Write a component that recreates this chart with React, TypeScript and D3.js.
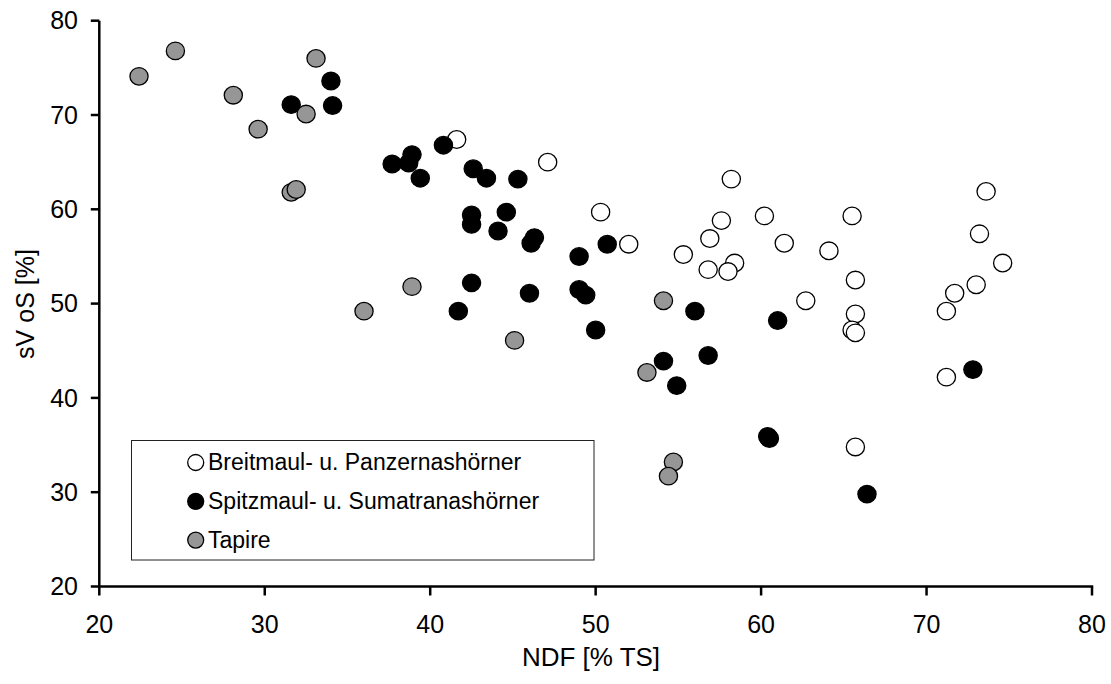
import React from "react";
import * as d3 from "d3";

// Breitmaul- u. Panzernashörner (white)
const breitX = [41.6, 47.1, 50.3, 52.0, 55.3, 58.2, 57.6, 56.9, 56.8, 58.4, 58.0, 60.2, 61.4, 64.1, 62.7, 65.5, 65.7, 65.7, 65.5, 65.7, 65.7, 73.6, 73.2, 74.6, 73.0, 71.7, 71.2, 71.2];
const breitY = [67.4, 65.0, 59.7, 56.3, 55.2, 63.2, 58.8, 56.9, 53.6, 54.3, 53.4, 59.3, 56.4, 55.6, 50.3, 59.3, 52.5, 48.9, 47.2, 46.9, 34.8, 61.9, 57.4, 54.3, 52.0, 51.1, 49.2, 42.2];

// Spitzmaul- u. Sumatranashörner (black)
const spitzX = [34.0, 34.1, 31.6, 37.7, 38.9, 38.7, 39.4, 40.8, 42.6, 43.4, 45.3, 42.5, 42.5, 44.6, 44.1, 46.3, 46.1, 49.0, 50.7, 42.5, 41.7, 46.0, 49.0, 49.4, 50.0, 54.1, 54.9, 56.0, 56.8, 61.0, 60.5, 60.4, 66.4, 72.8];
const spitzY = [73.6, 71.0, 71.1, 64.8, 65.8, 64.9, 63.3, 66.8, 64.3, 63.3, 63.2, 59.4, 58.4, 59.7, 57.7, 57.0, 56.4, 55.0, 56.3, 52.2, 49.2, 51.1, 51.5, 50.9, 47.2, 43.9, 41.3, 49.2, 44.5, 48.2, 35.7, 35.9, 29.8, 43.0];

// Tapire (grey)
const tapirX = [22.4, 24.6, 28.1, 29.6, 33.1, 32.5, 31.6, 31.9, 38.9, 36.0, 45.1, 54.1, 53.1, 54.7, 54.4];
const tapirY = [74.1, 76.8, 72.1, 68.5, 76.0, 70.1, 61.8, 62.1, 51.8, 49.2, 46.1, 50.3, 42.7, 33.2, 31.7];

const xTicks = [20, 30, 40, 50, 60, 70, 80];
const yTicks = [20, 30, 40, 50, 60, 70, 80];

const seriesNames = ["Breitmaul- u. Panzernashörner", "Spitzmaul- u. Sumatranashörner", "Tapire"];
const seriesFills = ["#ffffff", "#000000", "#969696"];

const W = 1111;
const H = 684;
const L = 99.3, R = 1092, T = 20.7, B = 586.5;
const FONT = "'Liberation Sans', Arial, Helvetica, sans-serif";

export default function App() {
  const x = d3.scaleLinear().domain([20, 80]).range([L, R]);
  const y = d3.scaleLinear().domain([20, 80]).range([B, T]);

  const series = [
    { xs: breitX, ys: breitY },
    { xs: spitzX, ys: spitzY },
    { xs: tapirX, ys: tapirY },
  ];

  return (
    <svg width={W} height={H} style={{ position: "absolute", left: 0, top: 0, background: "#fff" }} fontFamily={FONT}>
      <rect x={0} y={0} width={W} height={H} fill="#fff" />
      {/* points */}
      {series.map((s, si) => (
        <g key={si}>
          {s.xs.map((xv, i) => (
            <ellipse key={i} cx={x(xv)} cy={y(s.ys[i])} rx={9.1} ry={8.8}
              fill={seriesFills[si]} stroke="#000" strokeWidth={1.3} />
          ))}
        </g>
      ))}
      {/* axes */}
      <line x1={L} x2={L} y1={T} y2={B} stroke="#000" strokeWidth={2.5} />
      <line x1={L - 1.2} x2={R + 1.2} y1={B} y2={B} stroke="#000" strokeWidth={2.5} />
      {yTicks.map((t) => (
        <g key={"y" + t}>
          <line x1={L - 8.5} x2={L} y1={y(t)} y2={y(t)} stroke="#000" strokeWidth={2.5} />
          <text x={78} y={y(t)} dy="0.35em" textAnchor="end" fontSize={25}>{t}</text>
        </g>
      ))}
      {xTicks.map((t) => (
        <g key={"x" + t}>
          <line x1={x(t)} x2={x(t)} y1={B} y2={B + 9} stroke="#000" strokeWidth={2.5} />
          <text x={x(t)} y={633} textAnchor="middle" fontSize={25}>{t}</text>
        </g>
      ))}
      <text x={591} y={666} textAnchor="middle" fontSize={26}>NDF [% TS]</text>
      <text transform="translate(33.5,304) rotate(-90)" textAnchor="middle" fontSize={25}>sV oS [%]</text>
      {/* legend */}
      <rect x={131.5} y={440.5} width={462.5} height={119.5} fill="#fff" stroke="#222" strokeWidth={1} />
      {seriesNames.map((n, i) => (
        <g key={n}>
          <circle cx={195.7} cy={462.5 + i * 38.8} r={8} fill={seriesFills[i]} stroke="#000" strokeWidth={1.3} />
          <text x={208} y={470 + i * 38.8} fontSize={23}>{n}</text>
        </g>
      ))}
    </svg>
  );
}
